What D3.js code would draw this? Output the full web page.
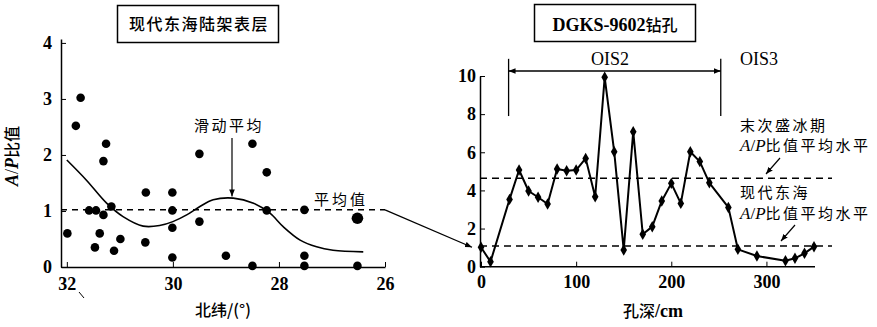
<!DOCTYPE html>
<html>
<head>
<meta charset="utf-8">
<script src="https://cdn.jsdelivr.net/npm/d3@7.9.0/dist/d3.min.js"></script>
<style>
  body { margin: 0; background: #fff; }
  svg { display: block; }
</style>
</head>
<body>
<svg id="chart" width="877" height="327"></svg>
<script>
// ---- left panel: modern East China Sea shelf surface ----
const shelfLat = [31.99, 31.83, 31.74, 31.58, 31.45, 31.47, 31.38, 31.31, 31.26, 31.31, 31.16, 31.11, 30.99,
  30.51, 30.52, 30.01, 30.01, 30.01, 30.01, 29.50, 29.50, 29.0, 28.50, 28.50, 28.23, 28.23, 27.52, 27.52, 27.52, 26.52];
const shelfRatio = [0.60, 2.52, 3.02, 1.01, 1.01, 0.35, 0.60, 1.89, 2.20, 0.93, 1.08, 0.29, 0.50,
  1.33, 0.44, 1.33, 1.01, 0.70, 0.17, 2.02, 0.81, 0.20, 2.20, 0.02, 1.69, 1.01, 1.02, 0.20, 0.02, 0.02];
const shelfBigLat = [26.52];
const shelfBigRatio = [0.87];
const movingLat = [32.0, 31.63, 31.25, 30.94, 30.56, 30.25, 30.0, 29.74, 29.49, 29.24, 28.86, 28.48, 28.17, 27.92, 27.60, 27.29, 26.98, 26.41];
const movingRatio = [1.91, 1.55, 1.14, 0.90, 0.73, 0.74, 0.81, 0.93, 1.08, 1.20, 1.23, 1.14, 0.96, 0.72, 0.48, 0.36, 0.30, 0.27];
const shelfMean = 1.02;
const leftXTicks = [32, 30, 28, 26];
const leftYTicks = [0, 1, 2, 3, 4];

// ---- right panel: DGKS-9602 core ----
const depthCm = [0, 10, 30, 40, 50, 60, 70, 80, 90, 100, 110, 120, 130, 140, 150, 160, 170, 180, 190, 200,
  210, 220, 230, 240, 260, 270, 290, 320, 330, 340, 350];
const coreRatio = [1.02, 0.26, 3.53, 5.07, 3.97, 3.64, 3.29, 5.12, 5.03, 5.07, 5.68, 3.67, 9.93, 6.03, 0.88, 7.08,
  1.70, 2.10, 3.45, 4.37, 3.32, 6.03, 5.51, 4.40, 3.11, 0.91, 0.56, 0.31, 0.44, 0.70, 1.05];
const lgmMean = 4.64;
const modernMean = 1.09;
const ois2Bounds = [29, 252];
const rightXTicks = [0, 100, 200, 300];
const rightYTicks = [0, 2, 4, 6, 8, 10];

const SERIF = "'Liberation Serif', 'Times New Roman', serif";
const CJK = "'Noto Sans CJK SC', sans-serif";

const svg = d3.select('#chart');

const defs = svg.append('defs');
defs.append('marker')
    .attr('id', 'arrow')
    .attr('viewBox', '0 0 10 10')
    .attr('refX', 10)
    .attr('refY', 5)
    .attr('markerWidth', 7)
    .attr('markerHeight', 7)
    .attr('markerUnits', 'userSpaceOnUse')
    .attr('orient', 'auto-start-reverse')
    .append('path')
    .attr('d', 'M0,1 L10,5 L0,9 Z')
    .attr('fill', '#000');

function styleAxis(g) {
    g.attr('font-family', SERIF).attr('font-size', 18);
    g.selectAll('.tick text')
        .style('font-family', SERIF)
        .style('font-size', '18px')
        .style('font-weight', 'bold')
        .attr('fill', '#000');
    g.select('.domain').attr('stroke-width', 1.5);
}

function cjkText(x, y, txt, size, spacing) {
    return svg.append('text')
        .attr('x', x).attr('y', y)
        .style('font-family', CJK)
        .style('font-size', size + 'px')
        .style('letter-spacing', (spacing || 0) + 'px')
        .attr('fill', '#000')
        .text(txt);
}

// ---------- left scales ----------
const xL = d3.scaleLinear().domain([32.11, 26]).range([61, 385]);
const yL = d3.scaleLinear().domain([0, 4.07]).range([267, 39]);

// title box
svg.append('rect')
    .attr('x', 117.5).attr('y', 5.5)
    .attr('width', 161).attr('height', 37)
    .attr('fill', 'none').attr('stroke', '#000').attr('stroke-width', 1.5);
cjkText(199, 30, '现代东海陆架表层', 16, 1.5)
    .attr('text-anchor', 'middle')
    .style('font-weight', 500);

// axes
svg.append('g')
    .attr('transform', `translate(0, ${yL(0)})`)
    .call(d3.axisBottom(xL).tickValues(leftXTicks).tickFormat(d3.format('d'))
        .tickSizeInner(-5).tickSizeOuter(0).tickPadding(10))
    .call(styleAxis);

svg.append('g')
    .attr('transform', `translate(${xL.range()[0]}, 0)`)
    .call(d3.axisLeft(yL).tickValues(leftYTicks).tickFormat(d3.format('d'))
        .tickSizeInner(-5).tickSizeOuter(0).tickPadding(9))
    .call(styleAxis);

// mean dashed line
svg.append('line')
    .attr('x1', xL.range()[0]).attr('x2', xL(26))
    .attr('y1', yL(shelfMean)).attr('y2', yL(shelfMean))
    .attr('stroke', '#000').attr('stroke-width', 1.5)
    .attr('stroke-dasharray', '6,5');

// moving average
const movingData = movingLat.map((d, i) => [d, movingRatio[i]]);
svg.append('path')
    .datum(movingData)
    .attr('fill', 'none').attr('stroke', '#000').attr('stroke-width', 1.6)
    .attr('d', d3.line().x(d => xL(d[0])).y(d => yL(d[1])).curve(d3.curveCatmullRom));

// dots
svg.append('g')
    .selectAll('circle')
    .data(shelfLat.map((d, i) => [d, shelfRatio[i]]))
    .join('circle')
    .attr('cx', d => xL(d[0]))
    .attr('cy', d => yL(d[1]))
    .attr('r', 4.3)
    .attr('fill', '#000');

svg.append('g')
    .selectAll('circle')
    .data(shelfBigLat.map((d, i) => [d, shelfBigRatio[i]]))
    .join('circle')
    .attr('cx', d => xL(d[0]))
    .attr('cy', d => yL(d[1]))
    .attr('r', 5.8)
    .attr('fill', '#000');

// labels
cjkText(229, 131, '滑动平均', 15, 2.5).attr('text-anchor', 'middle');
svg.append('line')
    .attr('x1', 232).attr('x2', 232)
    .attr('y1', 138).attr('y2', yL(1.26))
    .attr('stroke', '#000').attr('stroke-width', 1.2)
    .attr('marker-end', 'url(#arrow)');

cjkText(341, 205, '平均值', 15, 3).attr('text-anchor', 'middle');

const yLabel = svg.append('text')
    .attr('transform', 'translate(18, 156) rotate(-90)')
    .attr('text-anchor', 'middle')
    .attr('fill', '#000');
yLabel.append('tspan').style('font-family', SERIF).style('font-size', '18px').style('font-style', 'italic').style('font-weight', 'bold').text('A');
yLabel.append('tspan').style('font-family', SERIF).style('font-size', '18px').text('/');
yLabel.append('tspan').style('font-family', SERIF).style('font-size', '18px').style('font-style', 'italic').style('font-weight', 'bold').text('P');
yLabel.append('tspan').style('font-family', CJK).style('font-size', '16px').style('font-weight', 500).text('比值');

cjkText(223, 316, '北纬/(°)', 16).attr('text-anchor', 'middle').style('font-weight', 500);

// stray mark
svg.append('line')
    .attr('x1', 79).attr('y1', 292).attr('x2', 84).attr('y2', 298)
    .attr('stroke', '#000').attr('stroke-width', 1);

// ---------- right scales ----------
const xR = d3.scaleLinear().domain([0, 350]).range([481, 814]);
const yR = d3.scaleLinear().domain([0, 10]).range([266.7, 76]);

svg.append('rect')
    .attr('x', 534.5).attr('y', 4.5)
    .attr('width', 161).attr('height', 37)
    .attr('fill', 'none').attr('stroke', '#000').attr('stroke-width', 1.5);
const rtText = svg.append('text')
    .attr('x', 615).attr('y', 31)
    .attr('text-anchor', 'middle')
    .attr('fill', '#000');
rtText.append('tspan').style('font-family', SERIF)
    .style('font-size', '18px').style('font-weight', 'bold').text('DGKS-9602');
rtText.append('tspan').style('font-family', CJK)
    .style('font-size', '16px').style('font-weight', 500).text('钻孔');

svg.append('g')
    .attr('transform', `translate(0, ${yR(0)})`)
    .call(d3.axisBottom(xR).tickValues(rightXTicks)
        .tickSizeInner(-5).tickSizeOuter(0).tickPadding(9))
    .call(styleAxis)
    .call(g => g.select('.domain').attr('d', `M${xR(0) - 1},0H${xR(350) + 1}`));

svg.append('g')
    .attr('transform', `translate(${xR(0) - 1}, 0)`)
    .call(d3.axisLeft(yR).tickValues(rightYTicks)
        .tickSizeInner(-5).tickSizeOuter(0).tickPadding(4))
    .call(styleAxis);

// mean levels
[lgmMean, modernMean].forEach(v => {
    svg.append('line')
        .attr('x1', xR(0) - 1).attr('x2', 832)
        .attr('y1', yR(v)).attr('y2', yR(v))
        .attr('stroke', '#000').attr('stroke-width', 1.5)
        .attr('stroke-dasharray', '7,5');
});

// core line + diamonds
const coreData = depthCm.map((d, i) => [d, coreRatio[i]]);
svg.append('path')
    .datum(coreData)
    .attr('fill', 'none').attr('stroke', '#000').attr('stroke-width', 2)
    .attr('stroke-linejoin', 'round')
    .attr('d', d3.line().x(d => xR(d[0])).y(d => yR(d[1])));

svg.append('g')
    .selectAll('path')
    .data(coreData)
    .join('path')
    .attr('transform', d => `translate(${xR(d[0])}, ${yR(d[1])})`)
    .attr('d', d3.symbol(d3.symbolDiamond, 38))
    .attr('fill', '#000');

// OIS2 bracket
ois2Bounds.forEach(b => {
    svg.append('line')
        .attr('x1', xR(b)).attr('x2', xR(b))
        .attr('y1', yR(10.9)).attr('y2', yR(7.9))
        .attr('stroke', '#000').attr('stroke-width', 1.3);
});
svg.append('line')
    .attr('x1', xR(ois2Bounds[0])).attr('x2', xR(ois2Bounds[1]))
    .attr('y1', 71).attr('y2', 71)
    .attr('stroke', '#000').attr('stroke-width', 1.3)
    .attr('marker-start', 'url(#arrow)')
    .attr('marker-end', 'url(#arrow)');

['OIS2', 'OIS3'].forEach((lab, i) => {
    svg.append('text')
        .attr('x', i === 0 ? 610 : 759).attr('y', 65)
        .attr('text-anchor', 'middle')
        .style('font-family', SERIF)
        .style('font-size', '18px')
        .attr('fill', '#000')
        .text(lab);
});

// annotations
function ratioLabel(y) {
    const t = svg.append('text').attr('x', 740).attr('y', y).attr('fill', '#000');
    t.append('tspan').style('font-family', SERIF).style('font-style', 'italic').style('font-size', '17px').text('A');
    t.append('tspan').style('font-family', SERIF).style('font-size', '17px').text('/');
    t.append('tspan').style('font-family', SERIF).style('font-style', 'italic').style('font-size', '17px').text('P');
    t.append('tspan').style('font-family', CJK).style('font-size', '15px').style('letter-spacing', '2.5px').text('比值平均水平');
}
cjkText(740, 131, '末次盛冰期', 15, 2.5);
ratioLabel(151);
cjkText(740, 198, '现代东海', 15, 2.5);
ratioLabel(219);

svg.append('line')
    .attr('x1', 780).attr('y1', 158).attr('x2', 766).attr('y2', 174)
    .attr('stroke', '#000').attr('stroke-width', 1.2)
    .attr('marker-end', 'url(#arrow)');
svg.append('line')
    .attr('x1', 795).attr('y1', 225).attr('x2', 781).attr('y2', 241)
    .attr('stroke', '#000').attr('stroke-width', 1.2)
    .attr('marker-end', 'url(#arrow)');

const depthLabel = svg.append('text')
    .attr('x', 653).attr('y', 317)
    .attr('text-anchor', 'middle')
    .attr('fill', '#000');
depthLabel.append('tspan').style('font-family', CJK).style('font-size', '16px').style('font-weight', 500).text('孔深');
depthLabel.append('tspan').style('font-family', SERIF).style('font-size', '18px').style('font-weight', 'bold').text('/cm');

// connector: shelf mean -> core
svg.append('line')
    .attr('x1', xL(26)).attr('y1', yL(shelfMean))
    .attr('x2', xR(0) - 9).attr('y2', yR(1.02))
    .attr('stroke', '#000').attr('stroke-width', 1.3)
    .attr('marker-end', 'url(#arrow)');
</script>
</body>
</html>
